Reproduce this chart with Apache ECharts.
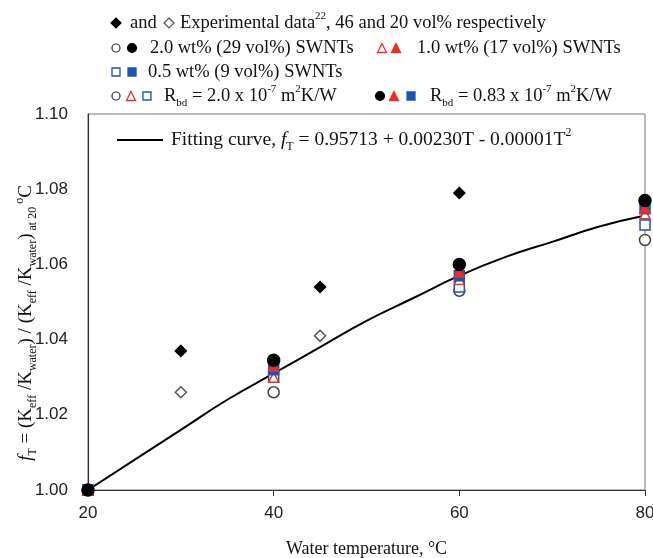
<!DOCTYPE html>
<html><head><meta charset="utf-8">
<script src="https://cdn.jsdelivr.net/npm/echarts@6/dist/echarts.min.js"></script>
<style>html,body{margin:0;padding:0;background:#fff}#c{width:653px;height:558px}</style>
</head><body><div id="c"></div>
<script>
// ---- data ----
const xTicks = [20, 40, 60, 80];
const curveT = [20, 25, 30, 35, 40, 45, 50, 55, 60, 65, 70, 75, 80];
const curveF = [1.000, 1.008, 1.016, 1.024, 1.031, 1.038, 1.045, 1.051, 1.057, 1.062, 1.066, 1.070, 1.073];
const expT_filled = [30, 45, 60];
const expF_filled = [1.037, 1.054, 1.079];
const expT_open = [30, 45];
const expF_open = [1.026, 1.041];
const simT = [20, 40, 60, 80];
const circ20_open = [1.000, 1.026, 1.053, 1.0665];
const circ20_filled = [1.000, 1.0345, 1.060, 1.077];
const tri10_open = [1.000, 1.030, 1.056, 1.0735];
const tri10_filled = [1.000, 1.033, 1.058, 1.075];
const sq05_open = [1.000, 1.030, 1.054, 1.0705];
const sq05_filled = [1.000, 1.032, 1.057, 1.0748];

const zip = (a, b) => a.map((v, i) => [v, b[i]]);
const RED = '#e8302a', BLUE = '#1d55b4';
const serif = 'Liberation Serif';

function sc(name, data, symbol, size, fill, stroke, z) {
  return { type: 'scatter', name, data, symbol, symbolSize: size, z: z,
    itemStyle: { color: fill, borderColor: stroke, borderWidth: 1.5, opacity: 1 } };
}

function richSet(fs, col) {
  const sfs = Math.round(fs * 0.62);
  return {
    n: { fontFamily: serif, fontSize: fs, fill: col, lineHeight: fs + 6 },
    fi: { fontFamily: serif, fontSize: fs, fontStyle: 'italic', fill: col, lineHeight: fs + 6 },
    sub: { fontFamily: serif, fontSize: sfs, fill: col, lineHeight: sfs, verticalAlign: 'bottom' },
    sup: { fontFamily: serif, fontSize: sfs, fill: col, lineHeight: sfs, verticalAlign: 'top' }
  };
}
const legRich = richSet(18.5, '#111');
const fitRich = richSet(19.5, '#111');
const yRich = richSet(19, '#111');

function txt(x, y, t, rich) {
  return { type: 'text', x: x, y: y, z: 100,
    style: { text: t, rich: rich || legRich, fill: '#111', verticalAlign: 'middle', align: 'left' } };
}
// legend symbols (key glyphs)
function kCircle(cx, cy, filled, col) {
  return { type: 'circle', z: 100, shape: { cx, cy, r: filled ? 4.5 : 4 },
    style: { fill: filled ? col : '#fff', stroke: col, lineWidth: 1.2 } };
}
function kTri(cx, cy, filled, col) {
  const h = 9, w = 9;
  return { type: 'polygon', z: 100, shape: { points: [[cx, cy - h / 2], [cx + w / 2, cy + h / 2], [cx - w / 2, cy + h / 2]] },
    style: { fill: filled ? col : '#fff', stroke: col, lineWidth: 1.3 } };
}
function kSq(cx, cy, filled, col) {
  const s = 8;
  return { type: 'rect', z: 100, shape: { x: cx - s / 2, y: cy - s / 2, width: s, height: s },
    style: { fill: filled ? col : '#fff', stroke: col, lineWidth: 1.3 } };
}
function kDia(cx, cy, filled, col) {
  const r = 5;
  return { type: 'polygon', z: 100, shape: { points: [[cx, cy - r], [cx + r, cy], [cx, cy + r], [cx - r, cy]] },
    style: { fill: filled ? col : '#fff', stroke: col, lineWidth: 1.2 } };
}

const chart = echarts.init(document.getElementById('c'), null, { renderer: 'canvas' });

chart.setOption({
  animation: false,
  backgroundColor: '#fff',
  grid: { left: 88, right: 8, top: 114, bottom: 68, show: true, borderColor: '#777', borderWidth: 1,
    containLabel: false, outerBoundsMode: 'none' },
  xAxis: {
    type: 'value', min: 20, max: 80, interval: 20,
    axisLine: { show: true, onZero: false, lineStyle: { color: '#333', width: 1.2 } },
    axisTick: { show: true, inside: false, length: 6, lineStyle: { color: '#333' } },
    splitLine: { show: false },
    axisLabel: { color: '#222', fontFamily: 'Liberation Sans', fontSize: 17, margin: 15 },
    name: 'Water temperature, °C', nameLocation: 'middle', nameGap: 50,
    nameTextStyle: { fontFamily: serif, fontSize: 18, color: '#111' }
  },
  yAxis: {
    type: 'value', min: 1.0, max: 1.1, interval: 0.02,
    axisLine: { show: true, onZero: false, lineStyle: { color: '#333', width: 1.2 } },
    axisTick: { show: false },
    splitLine: { show: false },
    axisLabel: { color: '#222', fontFamily: 'Liberation Sans', fontSize: 17, margin: 20,
      formatter: v => v.toFixed(2) }
  },
  graphic: [
    // y axis title
    { type: 'text', x: 26, y: 323, rotation: Math.PI / 2, z: 100,
      style: { text: '{fi|f}{sub|T}{n| = (K}{sub|eff}{n| /K}{sub|water}{n|) / (K}{sub|eff}{n| /K}{sub|water}{n|)}{sub| at 20 }{sup|o}{n|C}',
        rich: yRich, align: 'center', verticalAlign: 'middle', fill: '#111' } },
    // legend line 1
    kDia(116, 23, true, '#000'),
    txt(130, 23, '{n|and}'),
    kDia(169, 23, false, '#555'),
    txt(180, 23, '{n|Experimental data}{sup|22}{n|, 46 and 20 vol% respectively}'),
    // line 2
    kCircle(116, 48, false, '#333'), kCircle(132, 48, true, '#000'),
    txt(150, 48, '{n|2.0 wt% (29 vol%) SWNTs}'),
    kTri(382, 48, false, RED), kTri(396, 48, true, RED),
    txt(417, 48, '{n|1.0 wt% (17 vol%) SWNTs}'),
    // line 3
    kSq(116, 72, false, BLUE), kSq(132, 72, true, BLUE),
    txt(148, 72, '{n|0.5 wt% (9 vol%) SWNTs}'),
    // line 4
    kCircle(116, 96, false, '#333'), kTri(131, 96, false, RED), kSq(147, 96, false, BLUE),
    txt(164, 96, '{n|R}{sub|bd}{n| = 2.0 x 10}{sup|-7}{n| m}{sup|2}{n|K/W}'),
    kCircle(380, 96, true, '#000'), kTri(394, 96, true, RED), kSq(411, 96, true, BLUE),
    txt(430, 96, '{n|R}{sub|bd}{n| = 0.83 x 10}{sup|-7}{n| m}{sup|2}{n|K/W}'),
    // fitting curve key
    { type: 'line', z: 100, shape: { x1: 117, y1: 140, x2: 163, y2: 140 }, style: { stroke: '#000', lineWidth: 2 } },
    txt(171, 140, '{n|Fitting curve, }{fi|f}{sub|T}{n| = 0.95713 + 0.00230T - 0.00001T}{sup|2}', fitRich)
  ],
  series: [
    { type: 'line', name: 'fit', data: zip(curveT, curveF), showSymbol: false, symbol: 'none',
      smooth: true, lineStyle: { color: '#000', width: 2 }, z: 3 },
    sc('circ open', zip(simT, circ20_open), 'circle', 11, '#fff', '#444', 4),
    sc('sq open', zip(simT, sq05_open), 'rect', 10, '#fff', BLUE, 5),
    sc('tri open', zip(simT, tri10_open), 'triangle', 10, '#fff', RED, 6),
    sc('sq filled', zip(simT, sq05_filled), 'rect', 10, BLUE, BLUE, 7),
    sc('tri filled', zip(simT, tri10_filled), 'triangle', 10, RED, RED, 8),
    sc('circ filled', zip(simT, circ20_filled), 'circle', 12, '#000', '#000', 9),
    sc('exp open', zip(expT_open, expF_open), 'diamond', 11, '#fff', '#555', 10),
    sc('exp filled', zip(expT_filled, expF_filled), 'diamond', 11, '#000', '#000', 10)
  ]
});
</script></body></html>
